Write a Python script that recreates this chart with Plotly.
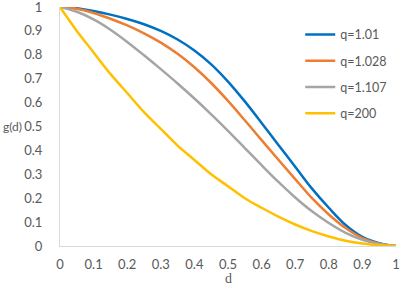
import plotly.graph_objects as go

d = [0, 0.05, 0.1, 0.15, 0.2, 0.25, 0.3, 0.35, 0.4, 0.45, 0.5,
     0.55, 0.6, 0.65, 0.7, 0.75, 0.8, 0.85, 0.9, 0.95, 1.0]

g_q101 = [1.0, 0.995, 0.983, 0.968, 0.950, 0.928, 0.900, 0.864, 0.818, 0.760, 0.688,
          0.605, 0.515, 0.423, 0.332, 0.240, 0.160, 0.088, 0.038, 0.012, 0.0]
g_q1028 = [1.0, 0.993, 0.975, 0.951, 0.923, 0.890, 0.851, 0.804, 0.748, 0.682, 0.607,
           0.526, 0.443, 0.361, 0.280, 0.200, 0.132, 0.075, 0.033, 0.010, 0.0]
g_q1107 = [1.0, 0.980, 0.948, 0.905, 0.854, 0.798, 0.740, 0.680, 0.617, 0.551, 0.482,
           0.410, 0.338, 0.268, 0.203, 0.145, 0.096, 0.055, 0.026, 0.008, 0.0]
g_q200 = [1.0, 0.900, 0.810, 0.720, 0.640, 0.560, 0.490, 0.420, 0.360, 0.300, 0.250,
          0.200, 0.160, 0.123, 0.090, 0.062, 0.040, 0.022, 0.010, 0.003, 0.0]

series_names = ["q=1.01", "q=1.028", "q=1.107", "q=200"]
series_values = [g_q101, g_q1028, g_q1107, g_q200]
colors = ["#0070C0", "#ED7D31", "#A5A5A5", "#FFC000"]

x_ticks = [0, 0.1, 0.2, 0.3, 0.4, 0.5, 0.6, 0.7, 0.8, 0.9, 1]
x_labels = ["0", "0.1", "0.2", "0.3", "0.4", "0.5", "0.6", "0.7", "0.8", "0.9", "1"]
y_ticks = [0, 0.1, 0.2, 0.3, 0.4, 0.5, 0.6, 0.7, 0.8, 0.9, 1]
y_labels = ["0", "0.1", "0.2", "0.3", "0.4", "0.5", "0.6", "0.7", "0.8", "0.9", "1"]

fig = go.Figure()
for name, vals, col in zip(series_names, series_values, colors):
    fig.add_trace(go.Scatter(
        x=d, y=vals, mode="lines", name=name, legendgroup=name,
        line=dict(color=col, width=2.5, shape="spline", smoothing=1.0),
    ))

font_family = "Lato, 'Open Sans', sans-serif"
fig.update_layout(
    width=400, height=290,
    margin=dict(l=60, r=4, t=7, b=44),
    paper_bgcolor="white", plot_bgcolor="white",
    font=dict(family=font_family, size=13, color="#595959"),
    showlegend=True,
    legend=dict(x=0.715, y=0.946, xanchor="left", yanchor="top",
                bgcolor="rgba(0,0,0,0)", tracegroupgap=7,
                font=dict(size=12.5, color="#595959")),
    xaxis=dict(range=[0, 1], tickvals=x_ticks, ticktext=x_labels,
               showgrid=False, zeroline=False, showline=True,
               linecolor="#D9D9D9", linewidth=1, ticks="",
               ticklabelstandoff=6, automargin=False,
               ticklabeloverflow="allow", fixedrange=True),
    yaxis=dict(range=[0, 1], tickvals=y_ticks, ticktext=y_labels,
               showgrid=False, zeroline=False, showline=True,
               linecolor="#D9D9D9", linewidth=1, ticks="",
               ticklabelstandoff=14, automargin=False,
               ticklabeloverflow="allow", fixedrange=True),
)
fig.add_annotation(text="g(d)", xref="paper", yref="paper", x=-0.175, y=0.5,
                   xanchor="left", yanchor="middle", showarrow=False,
                   font=dict(family=font_family, size=12, color="#595959"))
fig.add_annotation(text="d", xref="paper", yref="paper", x=0.5, y=-0.138,
                   xanchor="center", yanchor="middle", showarrow=False,
                   font=dict(family="'Liberation Serif', serif", size=14, color="#595959"))

fig.write_html("out.html", config={"displayModeBar": False},
               post_script="document.body.style.margin='0px';")
